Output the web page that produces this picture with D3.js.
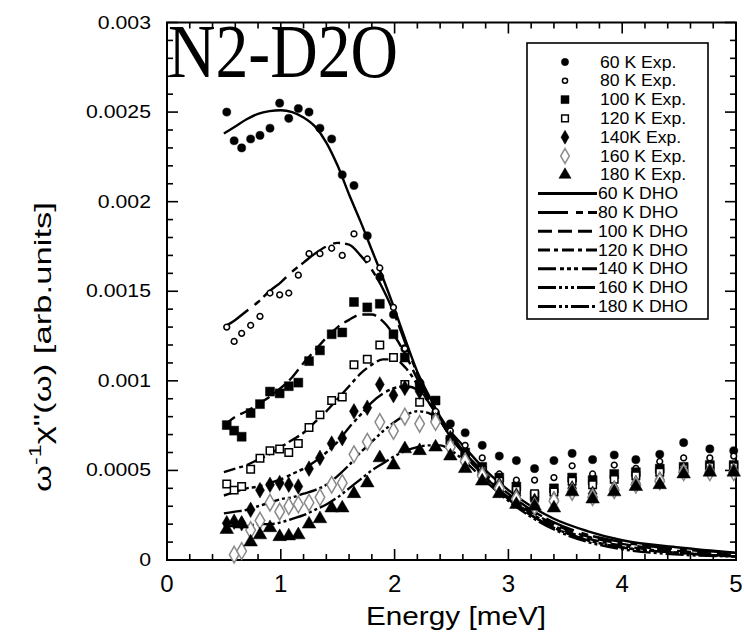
<!DOCTYPE html>
<html lang="en">
<head>
    <meta charset="UTF-8">
    <title>N2-D2O DHO fits</title>
    <script src="https://d3js.org/d3.v7.min.js"></script>
    <style>
        body { margin: 0; background: #fff; }
        text { font-family: "Liberation Sans", Arial, sans-serif; fill: #000; }
    </style>
</head>
<body>
    <div id="chart-container"></div>

    <script>
        // experimental energies (meV), shared by all temperatures
        const energy = [0.525, 0.59, 0.656, 0.735, 0.817, 0.905, 0.99, 1.07, 1.154, 1.248, 1.344, 1.447,
            1.54, 1.643, 1.76, 1.87, 1.99, 2.09, 2.22, 2.36, 2.49, 2.62, 2.77, 2.92, 3.07, 3.23, 3.40,
            3.56, 3.74, 3.93, 4.12, 4.33, 4.54, 4.77, 4.98];

        const exp60 = [.0025, .00234, .0023, .00235, .00237, .00241, .00255, .002465, .00252, .0025, .00241, .00235,
            .00215, .00209, .00181, .00158, .00137, .00118, .00099, .00082, .00076, .00071, .00064, .00058, .000555, .00051, .000555,
            .000595, .00056, .000586, .00056, .00059, .000655, .00062, .00061];
        const exp80 = [.0013, .00122, .001265, .00131, .00136, .00149, .00148, .00149, .00159, .00171, .00171, .00174,
            .0017, .00182, .00168, .00163, .00141, .00118, .00098, .00083, .00072, .00064, .00057, .00048, .000446, .000446, .00046,
            .000526, .00048, .00053, .000512, .00055, .00057, .00057, .00058];
        const exp100 = [.000753, .000722, .000688, .00082, .00087, .00094, .00093, .00097, .00099, .00111, .00117, .00126,
            .00127, .00144, .00141, .00143, .00126, .00113, .00097, .00089, .00067, .0006, .00052, .00046, .00041, .00036, .0004,
            .00046, .000446, .00048, .00049, .00051, .00052, .00053, .00053];
        const exp120 = [.000424, .00039, .00041, .000506, .000568, .00061, .00062, .0006, .00065, .00074, .00081, .00089,
            .00091, .00109, .00112, .0012, .00113, .00098, .00088, .00079, .00066, .00058, .0005, .00044, .00039, .00037, .00038,
            .00044, .00042, .00045, .00047, .00049, .00051, .00052, .00052];
        const exp140 = [.000205, .000214, .000205, .00028, .00039, .00042, .00043, .00042, .00041, .00051, .00057, .00065,
            .00068, .00083, .00085, .00098, .00092, .00096, .00094, .00078, .00068, .00058, .00049, .00042, .00036, .00033, .00034,
            .0004, .00037, .0004, .00043, .00045, .0005, .0005, .0005];
        const exp160 = [null, .00003, .00005, .000167, .00022, .00032, .00027, .0003, .00031, .00032, .00035, .00042,
            .00043, .00059, .00066, .00077, .00072, .0008, .00076, .00077, .00063, .00055, .00047, .0004, .00034, .0003, .00033,
            .00038, .00035, .00039, .00042, .00044, .00049, .00049, .00049];
        const exp180 = [.00017, null, .0002, .0001, .00014, .00018, .00013, .000134, .00014, .0002, .00023, .00029,
            .00029, .00037, .00043, .00057, .00053, .00062, .00061, .00063, .00058, .00051, .00044, .00037, .00031, .0003, .00029,
            .00038, .00034, .00038, .00041, .00042, .00048, .00049, .00049];

        // DHO model curves
        const dhoEnergy = [0.5, 0.6, 0.7, 0.8, 0.9, 1.0, 1.1, 1.2, 1.3, 1.4, 1.5, 1.6, 1.7, 1.8, 1.9, 2.0,
            2.1, 2.2, 2.3, 2.4, 2.5, 2.6, 2.8, 3.0, 3.2, 3.4, 3.7, 4.0, 4.5, 5.0];
        const dho60 = [.00238, .00242, .00246, .00249, .002505, .00251, .0025, .00247, .00242, .00233, .0022, .00204, .00189, .00173, .00157, .0014,
            .00122, .00105, .00092, .0008, .00071, .00064, .0005, .00039, .0003, .00023, .00016, .00011, .00007, .00004];
        const dho80 = [.0013, .00134, .00139, .00144, .0015, .00155, .00161, .00166, .00171, .00175, .00177, .00176, .0017, .00162, .00151, .00137,
            .0012, .00104, .0009, .00078, .00069, .00061, .00048, .00037, .00028, .00021, .00014, .0001, .00006, .00004];
        const dho100 = [.00075, .0008, .00083, .00087, .00091, .00096, .00102, .0011, .00117, .00124, .0013, .00134, .00137, .00137, .00133, .00125,
            .00114, .00101, .00089, .00078, .00068, .0006, .00047, .00036, .00027, .0002, .00013, .00009, .00005, .00003];
        const dho120 = [.00049, .00051, .00053, .00056, .00059, .00063, .00067, .00071, .00077, .00083, .0009, .00097, .00104, .00109, .00112, .00112,
            .00107, .00098, .00088, .00078, .00068, .0006, .00046, .00035, .00026, .00019, .00012, .00008, .00004, .00002];
        const dho140 = [.00036, .00038, .0004, .00041, .00043, .00045, .00048, .00051, .00055, .0006, .00066, .00074, .00081, .00088, .00093, .00096,
            .00097, .00095, .00088, .00078, .00069, .0006, .00046, .00034, .00025, .00018, .00011, .00007, .00004, .00002];
        const dho160 = [.00026, .00027, .00028, .0003, .00032, .00034, .00035, .00037, .00039, .00042, .00047, .00053, .0006, .00066, .00072, .00077,
            .00081, .00083, .00082, .00078, .0007, .00061, .00046, .00034, .00025, .00018, .00011, .00007, .00004, .00002];
        const dho180 = [.00019, .00019, .00019, .0002, .0002, .00021, .00023, .00025, .00028, .00031, .00035, .0004, .00045, .0005, .00054, .00058,
            .00061, .00063, .00064, .00064, .00061, .00056, .00044, .00033, .00024, .00017, .0001, .00006, .00003, .00002];

        const expLabels = ["60 K Exp.", "80 K Exp.", "100 K Exp.", "120 K Exp.", "140K Exp.", "160 K Exp.", "180 K Exp."];
        const dhoLabels = ["60 K DHO", "80 K DHO", "100 K DHO", "120 K DHO", "140 K DHO", "160 K DHO", "180 K DHO"];
        const yTicks = [0, 0.0005, 0.001, 0.0015, 0.002, 0.0025, 0.003];
        const yTickLabels = ["0", "0.0005", "0.001", "0.0015", "0.002", "0.0025", "0.003"];
        const xTicks = [0, 1, 2, 3, 4, 5];

        const expSeries = [exp60, exp80, exp100, exp120, exp140, exp160, exp180];
        const dhoSeries = [dho60, dho80, dho100, dho120, dho140, dho160, dho180];

        // marker look per temperature: [symbol, size, filled, colour]
        const markers = [
            [d3.symbolCircle, 52, true, "#000"],
            [d3.symbolCircle, 26, false, "#000"],
            [d3.symbolSquare, 80, true, "#000"],
            [d3.symbolSquare, 56, false, "#000"],
            [d3.symbolDiamond, 70, true, "#000"],
            [d3.symbolDiamond, 80, false, "#8a8a8a"],
            [d3.symbolTriangle, 80, true, "#000"]
        ];
        const dashes = ["none", "30,8,7,5", "14,6", "12,4,4,4", "18,4,4,3,4,3,4,4", "18,3,3,3,3,3,3,3", "18,3,3,3,3,3"];

        const width = 744, height = 632;
        const svg = d3.select("#chart-container")
            .append("svg")
            .attr("width", width)
            .attr("height", height);

        const x = d3.scaleLinear().domain([0, 5]).range([167, 736]);
        const y = d3.scaleLinear().domain([0, 0.003]).range([560, 22.5]);

        // scanned text is a bit wider than the font, stretch it along its run
        function widen(sel, k) {
            sel.each(function () {
                const w = this.getComputedTextLength();
                d3.select(this).attr("textLength", w * k).attr("lengthAdjust", "spacingAndGlyphs");
            });
        }

        // frame
        svg.append("rect")
            .attr("x", x(0)).attr("y", y(0.003))
            .attr("width", x(5) - x(0)).attr("height", y(0) - y(0.003))
            .attr("fill", "none").attr("stroke", "#000").attr("stroke-width", 2);

        // inward ticks on all four sides
        const xMinor = d3.range(0, 5.01, 0.2);
        const yMinor = d3.range(0, 0.003001, 0.0001);
        const isMajorX = v => Math.abs(v - Math.round(v)) < 1e-6;
        const isMajorY = v => Math.abs(v / 0.0005 - Math.round(v / 0.0005)) < 1e-6;
        const ticks = svg.append("g").attr("stroke", "#000").attr("stroke-width", 1.6);
        xMinor.forEach(v => {
            const len = isMajorX(v) ? 11 : 6;
            ticks.append("line").attr("x1", x(v)).attr("x2", x(v)).attr("y1", y(0)).attr("y2", y(0) - len);
            ticks.append("line").attr("x1", x(v)).attr("x2", x(v)).attr("y1", y(0.003)).attr("y2", y(0.003) + len);
        });
        yMinor.forEach(v => {
            const len = isMajorY(v) ? 11 : 6;
            ticks.append("line").attr("x1", x(0)).attr("x2", x(0) + len).attr("y1", y(v)).attr("y2", y(v));
            ticks.append("line").attr("x1", x(5)).attr("x2", x(5) - len).attr("y1", y(v)).attr("y2", y(v));
        });

        const yTickText = svg.append("g").selectAll("text")
            .data(yTicks)
            .join("text")
            .attr("x", 151)
            .attr("y", d => y(d) + 6)
            .attr("text-anchor", "end")
            .style("font-size", "18px")
            .text((d, i) => yTickLabels[i]);
        widen(yTickText, 1.18);

        svg.append("g").selectAll("text")
            .data(xTicks)
            .join("text")
            .attr("x", d => x(d))
            .attr("y", 592)
            .attr("text-anchor", "middle")
            .style("font-size", "24px")
            .text(d => d);

        svg.append("text")
            .attr("x", 456).attr("y", 625)
            .attr("text-anchor", "middle")
            .attr("textLength", 180)
            .attr("lengthAdjust", "spacingAndGlyphs")
            .style("font-size", "25px")
            .text("Energy [meV]");

        const yLabel = svg.append("text")
            .attr("transform", "translate(51,347) rotate(-90)")
            .attr("text-anchor", "middle")
            .attr("textLength", 290)
            .attr("lengthAdjust", "spacingAndGlyphs")
            .style("font-size", "24px");
        yLabel.append("tspan").text("ω");
        yLabel.append("tspan").attr("dy", -10).style("font-size", "16px").text("-1");
        yLabel.append("tspan").attr("dy", 10).text("χ\"(ω) [arb.units]");

        // DHO curves
        const line = d3.line()
            .x(d => x(d[0]))
            .y(d => y(d[1]))
            .curve(d3.curveMonotoneX);

        svg.append("g").selectAll("path")
            .data(dhoSeries)
            .join("path")
            .attr("d", s => line(s.map((v, i) => [dhoEnergy[i], v])))
            .attr("fill", "none")
            .attr("stroke", "#000")
            .attr("stroke-width", 2.4)
            .attr("stroke-dasharray", (s, i) => dashes[i]);

        // experimental points
        expSeries.forEach((s, k) => {
            const [shape, size, filled, col] = markers[k];
            const pts = s.map((v, i) => [energy[i], v]).filter(p => p[1] !== null);
            svg.append("g").selectAll("path")
                .data(pts)
                .join("path")
                .attr("transform", d => `translate(${x(d[0])},${y(d[1])})`)
                .attr("d", d3.symbol().type(shape).size(size))
                .attr("fill", filled ? col : "#fff")
                .attr("stroke", col)
                .attr("stroke-width", filled ? 0.5 : 1.5);
        });

        // legend
        const legend = svg.append("g");
        legend.append("rect")
            .attr("x", 527).attr("y", 43).attr("width", 181).attr("height", 276)
            .attr("fill", "#fff").attr("stroke", "#000").attr("stroke-width", 1.6);
        const rowY = i => 62 + i * 18.8;
        expLabels.forEach((t, i) => {
            const [shape, size, filled, col] = markers[i];
            legend.append("path")
                .attr("transform", `translate(565,${rowY(i)})`)
                .attr("d", d3.symbol().type(shape).size(size * 0.8))
                .attr("fill", filled ? col : "#fff")
                .attr("stroke", col)
                .attr("stroke-width", filled ? 0.5 : 1.5);
            const txt = legend.append("text")
                .attr("x", 600).attr("y", rowY(i) + 5.5)
                .style("font-size", "16px")
                .text(t);
            widen(txt, 1.1);
        });
        dhoLabels.forEach((t, j) => {
            const i = j + 7;
            legend.append("line")
                .attr("x1", 538).attr("x2", 597)
                .attr("y1", rowY(i)).attr("y2", rowY(i))
                .attr("stroke", "#000").attr("stroke-width", 3)
                .attr("stroke-dasharray", dashes[j]);
            const txt = legend.append("text")
                .attr("x", 598).attr("y", rowY(i) + 5.5)
                .style("font-size", "16px")
                .text(t);
            widen(txt, 1.1);
        });

        // title inside the frame
        svg.append("text")
            .attr("x", 168).attr("y", 77)
            .attr("textLength", 230)
            .attr("lengthAdjust", "spacingAndGlyphs")
            .style("font-family", "'Liberation Serif', 'Times New Roman', serif")
            .style("font-size", "76px")
            .text("N2-D2O");
    </script>
</body>
</html>
